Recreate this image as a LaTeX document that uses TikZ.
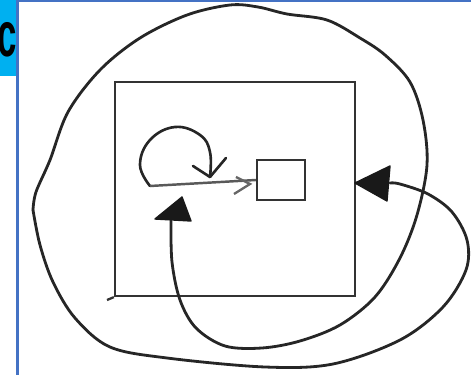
\documentclass[tikz,border=0pt]{standalone}
\usepackage{fontspec}
\setmainfont{Liberation Sans}
\usetikzlibrary{arrows.meta}
\definecolor{labelcyan}{HTML}{00B0F0}
\definecolor{frameblue}{HTML}{4472C4}
\tikzset{
  sketch/.style={draw=black!85, line width=1.6pt, line cap=round, line join=round},
  boxline/.style={draw=black!80, line width=1.3pt},
  headfill/.style={fill=black!90, draw=black!90, line width=0.8pt, line join=round},
}
\begin{document}
\begin{tikzpicture}[x=0.02cm, y=-0.02cm]
\useasboundingbox (0,0) rectangle (471,375);
% panel label
\fill[labelcyan] (0,0) rectangle (17,76);
\node[font=\bfseries\fontsize{36}{36}\selectfont, inner sep=0pt, anchor=center] (lbl) at (7.5,40) {\scalebox{0.55}[1]{c}};
% frame
\draw[frameblue, line width=1.2pt] (17.5,375) -- (17.5,0.6) -- (471,0.6);
% big box
\node[boxline, rectangle, minimum width=240*0.02cm, minimum height=214*0.02cm, inner sep=0pt] (big) at (235,189) {};
\draw[boxline] (107,300) -- (big.south west);
% small square
\node[boxline, rectangle, minimum width=48*0.02cm, minimum height=40*0.02cm, inner sep=0pt] (sq) at (281,180) {};
% self loop
\coordinate (ls) at (150,186);
\coordinate (lt) at (210,177);
\draw[sketch, line width=1.5pt] plot[smooth, tension=0.7] coordinates {(ls) (140,165) (150,140) (175,127) (200,135) (210,152) (lt)};
\draw[sketch, line width=1.5pt] (193,166) -- (lt) -- (226,158);
% arrow to square
\draw[draw=black!65, line width=1.4pt] (ls) -- (sq.west);
\draw[draw=black!60, line width=1.3pt] (236,177) -- (250,184) -- (234,194);
% spiral connector
\coordinate (tipA) at (182,197);
\coordinate (tipB) at (355,183);
\draw[sketch] plot[smooth, tension=0.55] coordinates {
 (171,221) (172,262) (180,300) (196,328) (225,346) (262,348) (300,341) (340,325) (375,297) (400,258) (417,215) (427,165) (423,120) (410,82) (385,55) (360,38) (327,20) (287,14) (258,7) (230,5) (187,15) (140,38) (100,70) (68,112) (50,160) (36,192) (33,210)};
\draw[sketch] plot[smooth, tension=0.55] coordinates {
 (33,210) (40,245) (53,282) (75,318) (110,347) (167,358) (265,367) (333,364) (400,340) (443,307) (466,270) (467,240) (452,212) (428,194) (400,184) (390,183)};
\filldraw[headfill] (tipA) -- (155,219) -- (191,221) -- cycle;
\filldraw[headfill] (tipB) -- (390,166) -- (387,201) -- cycle;
\end{tikzpicture}
\end{document}
